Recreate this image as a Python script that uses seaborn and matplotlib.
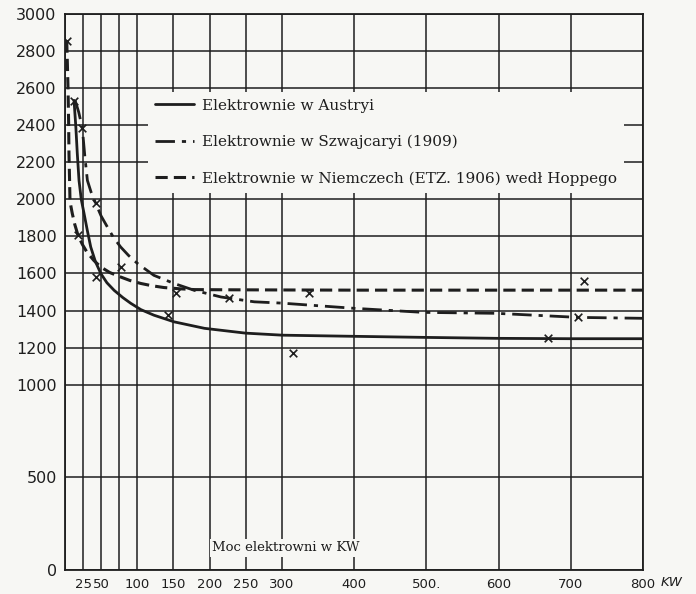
import matplotlib
matplotlib.use("Agg")
import matplotlib.pyplot as plt
import seaborn as sns
import pandas as pd

# Curves (kW, value)
austria_kw = [12.5, 15, 17, 19.4, 22.5, 26.3, 31, 35.6, 42, 49.5, 58, 68, 80, 91, 105, 123, 151, 193,
              250, 301, 398, 500, 597, 700, 800]
austria_val = [2534, 2390, 2248, 2102, 2000, 1925, 1830, 1743, 1665, 1600, 1550, 1509, 1470, 1439,
               1405, 1375, 1339, 1304, 1278, 1267, 1261, 1255, 1250, 1248, 1248]

swiss_kw = [14, 19, 24, 27.5, 31, 36, 42.5, 50, 58.6, 67, 77, 88, 100, 123, 151, 179, 216, 262,
            300, 400, 496, 597, 710, 800]
swiss_val = [2534, 2470, 2383, 2230, 2102, 2040, 1978, 1910, 1851, 1795, 1743, 1697, 1655, 1590,
             1546, 1509, 1473, 1447, 1440, 1412, 1390, 1385, 1363, 1358]

german_kw = [2.4, 3.3, 4.2, 5.0, 5.5, 6.3, 6.9, 8.3, 10, 13.5, 18, 24, 30.5, 40, 49.5, 62, 77, 90,
             105, 120, 137, 160, 179, 220, 300, 400, 500, 600, 700, 800]
german_val = [2857, 2730, 2596, 2420, 2248, 2110, 1995, 1960, 1925, 1865, 1806, 1757, 1714, 1670,
              1635, 1605, 1581, 1562, 1546, 1534, 1524, 1517, 1513, 1512, 1511, 1510, 1510, 1510,
              1510, 1510]

# crosses (measured stations)
cross_kw = [3, 13, 24, 18, 43, 43, 77, 153, 142, 227, 315, 338, 668, 710, 718]
cross_val = [2857, 2530, 2383, 1806, 1978, 1580, 1634, 1493, 1375, 1466, 1170, 1493, 1250, 1363, 1557]

x_ticks = [0, 25, 50, 75, 100, 150, 200, 250, 300, 400, 500, 600, 700, 800]
x_labels = ["", "25", "50", "", "100", "150", "200", "250", "300", "400", "500.", "600", "700", "800"]
y_ticks = [0, 500, 1000, 1200, 1400, 1600, 1800, 2000, 2200, 2400, 2600, 2800, 3000]

labels = ["Elektrownie w Austryi",
          "Elektrownie w Szwajcaryi (1909)",
          "Elektrownie w Niemczech (ETZ. 1906) wedł Hoppego"]

ink = "#1e1e1e"
paper = "#f7f7f4"

sns.set_style("white")
plt.rcParams["font.family"] = ["DejaVu Sans"]

fig = plt.figure(figsize=(6.96, 5.94), dpi=100, facecolor=paper)
ax = fig.add_axes([65 / 696, 1 - 570 / 594, 578 / 696, 556 / 594])
ax.set_facecolor(paper)

df_a = pd.DataFrame({"kw": austria_kw, "val": austria_val})
df_s = pd.DataFrame({"kw": swiss_kw, "val": swiss_val})
df_g = pd.DataFrame({"kw": german_kw, "val": german_val})
df_x = pd.DataFrame({"kw": cross_kw, "val": cross_val})

sns.lineplot(data=df_a, x="kw", y="val", ax=ax, color=ink, lw=2.0, label=labels[0], zorder=4)
sns.lineplot(data=df_s, x="kw", y="val", ax=ax, color=ink, lw=2.0,
             linestyle=(0, (7, 2.5, 1.5, 2.5)), label=labels[1], zorder=4)
sns.lineplot(data=df_g, x="kw", y="val", ax=ax, color=ink, lw=2.2,
             linestyle=(0, (4, 2)), label=labels[2], zorder=4)
sns.scatterplot(data=df_x, x="kw", y="val", ax=ax, marker="x", color=ink, s=30,
                linewidth=1.2, zorder=5)

ax.set_xlim(0, 800)
ax.set_ylim(0, 3000)
ax.set_xticks(x_ticks)
ax.set_xticklabels(x_labels)
ax.set_yticks(y_ticks)
ax.tick_params(axis="both", length=0, colors=ink)
ax.tick_params(axis="x", labelsize=9.5, pad=6)
ax.tick_params(axis="y", labelsize=11.5, pad=6)
ax.grid(True, color=ink, lw=1.1)
ax.set_axisbelow(True)
for s in ax.spines.values():
    s.set_color(ink)
    s.set_linewidth(1.3)
ax.set_xlabel("")
ax.set_ylabel("")

leg = ax.legend(loc="upper left", bbox_to_anchor=(0.13, 0.874), frameon=True,
                facecolor=paper, edgecolor="none", framealpha=1, fancybox=False,
                handlelength=2.6, handletextpad=0.5, labelspacing=1.45,
                borderpad=0.45, prop={"family": "DejaVu Serif", "size": 11})
leg.set_zorder(3)
for t in leg.get_texts():
    t.set_color(ink)

ax.text(306, 119, "Moc elektrowni w KW", ha="center", va="center", fontsize=9.5,
        family="DejaVu Serif", color=ink, zorder=6,
        bbox=dict(facecolor=paper, edgecolor="none", pad=1.5))
ax.annotate("KW", xy=(1.0, 0), xycoords="axes fraction", xytext=(13, -9),
            textcoords="offset points", ha="left", va="center", fontsize=9.5,
            style="italic", family="DejaVu Sans", color=ink)

fig.savefig("out.png", dpi=100, facecolor=paper)
